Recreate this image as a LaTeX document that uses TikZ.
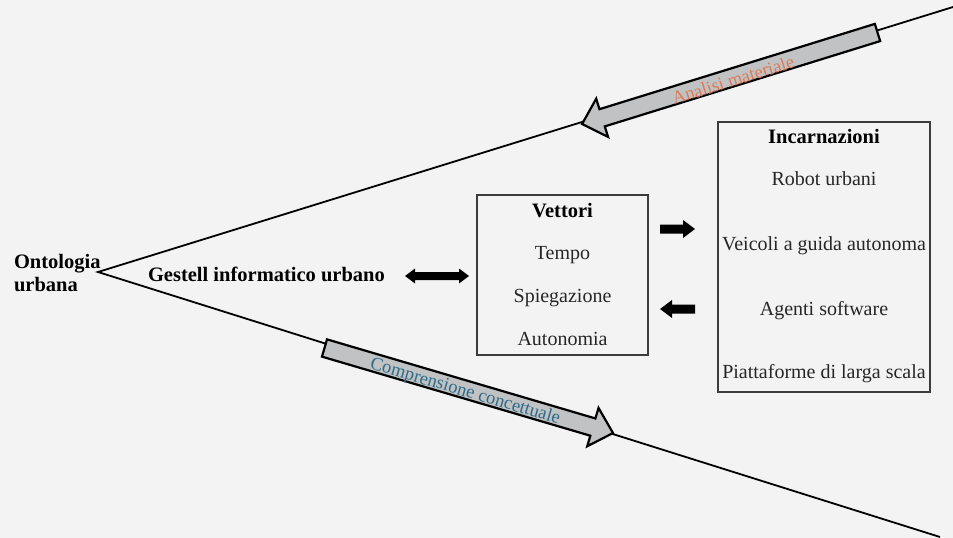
\documentclass[tikz,border=0pt]{standalone}
\usepackage{fontspec}
\setmainfont{Liberation Serif}
\definecolor{bg}{RGB}{243,243,243}
\definecolor{afill}{RGB}{192,194,195}
\definecolor{orangetxt}{RGB}{222,122,88}
\definecolor{tealtxt}{RGB}{44,108,138}
\definecolor{boxline}{RGB}{60,60,60}
\begin{document}
\begin{tikzpicture}[x=1pt,y=-1pt,
  every node/.style={inner sep=0pt, outer sep=0pt},
  reg/.style={font=\fontsize{20}{22}\selectfont, text=black!85, anchor=base},
  hd/.style={font=\fontsize{20.5}{20}\selectfont\bfseries, anchor=base},
  frame/.style={draw=boxline, line width=1.3pt, minimum width=#1},
  ray/.style={draw=black, line width=1.8pt},
  blk/.style={draw=black, fill=afill, line width=2.2pt, line join=miter},
  lbl/.style={font=\fontsize{18.5}{22}\selectfont, anchor=center},
  solidarrow/.style={fill=black}
]
\fill[bg] (0,0) rectangle (953,538);
\useasboundingbox (0,0) rectangle (953,538);

% rays
\coordinate (apex) at (98,272);
\coordinate (topend) at (953,7);
\coordinate (botend) at (940,537);
\draw[ray] (topend) -- (apex) -- (botend);

% block arrows
\begin{scope}[shift={(877.5,32.5)}, rotate=197.21]
  \draw[blk] (0,-9) -- (288.3,-9) -- (288.3,-20) -- (309.3,0) -- (288.3,20) -- (288.3,9) -- (0,9) -- cycle;
\end{scope}
\begin{scope}[shift={(324.5,348)}, rotate=-16.42]
  \draw[blk] (0,-9) -- (279.8,-9) -- (279.8,-20) -- (300.8,0) -- (279.8,20) -- (279.8,9) -- (0,9) -- cycle;
\end{scope}
\node[lbl, text=orangetxt, rotate=17.2] (analisi) at (733,80) {Analisi materiale};
\node[lbl, text=tealtxt, rotate=-16.4] (compr) at (465,392) {Comprensione concettuale};

% left labels
\node[font=\fontsize{20.5}{23}\selectfont\bfseries, align=left, anchor=west] (onto) at (14,273) {Ontologia\\urbana};
\node[hd, anchor=base west] (gestell) at (148,281) {Gestell informatico urbano};

% double arrow
\fill[solidarrow] (405,276) -- (415,268.5) -- (415,272) -- (459,272) -- (459,268.5) -- (469,276)
  -- (459,283.5) -- (459,280) -- (415,280) -- (415,283.5) -- cycle;

% Vettori box
\node[frame=171pt, minimum height=160pt] (vbox) at (562.5,275) {};
\node[hd] (vett) at (562.5,217) {Vettori};
\node[reg] (tempo) at (562.5,259) {Tempo};
\node[reg] (spieg) at (562.5,302) {Spiegazione};
\node[reg] (auton) at (562.5,345) {Autonomia};

% small arrows
\fill[solidarrow] (660,224.5) -- (683,224.5) -- (683,220) -- (695,229) -- (683,238) -- (683,233.5) -- (660,233.5) -- cycle;
\fill[solidarrow] (695,304.5) -- (672,304.5) -- (672,300) -- (660,309) -- (672,318) -- (672,313.5) -- (695,313.5) -- cycle;

% Incarnazioni box
\node[frame=212pt, minimum height=270pt] (ibox) at (824,257) {};
\node[hd] (incarn) at (824,143) {Incarnazioni};
\node[reg] (robot) at (824,185) {Robot urbani};
\node[reg] (veicoli) at (824,250) {Veicoli a guida autonoma};
\node[reg] (agenti) at (824,315) {Agenti software};
\node[reg] (piatt) at (824,378) {Piattaforme di larga scala};
\end{tikzpicture}
\end{document}
